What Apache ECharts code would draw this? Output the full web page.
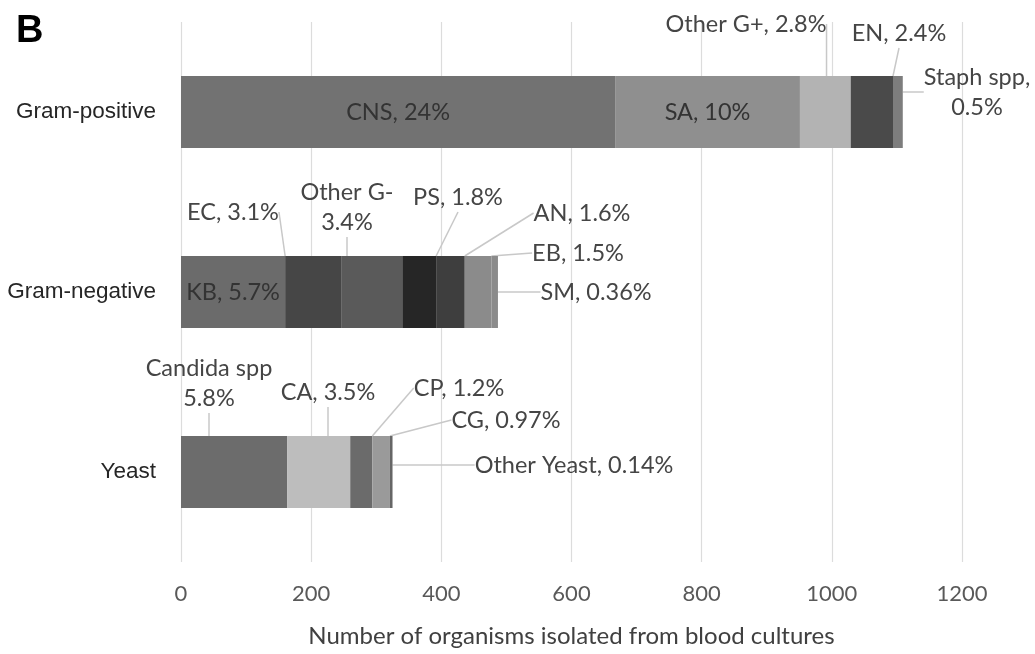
<!DOCTYPE html>
<html>
<head>
<meta charset="utf-8">
<script src="https://cdn.jsdelivr.net/npm/echarts@6/dist/echarts.min.js"></script>
<style>
  html, body { margin: 0; padding: 0; background: #fff; }
  #chart { width: 1035px; height: 654px; }
</style>
</head>
<body>
<div id="chart"></div>
<script>
// ---- Data ----
const categories = ['Gram-positive', 'Gram-negative', 'Yeast'];
const xTicks = [0, 200, 400, 600, 800, 1000, 1200];

const gramPosNames  = ['CNS', 'SA', 'Other G+', 'EN', 'Staph spp'];
const gramPosValues = [667, 284, 78, 65, 15];
const gramPosLabels = ['CNS, 24%', 'SA, 10%', 'Other G+, 2.8%', 'EN, 2.4%', 'Staph spp,\n0.5%'];

const gramNegNames  = ['KB', 'EC', 'Other G-', 'PS', 'AN', 'EB', 'SM'];
const gramNegValues = [160, 87, 93, 52, 44, 41, 10];
const gramNegLabels = ['KB, 5.7%', 'EC, 3.1%', 'Other G-\n3.4%', 'PS, 1.8%', 'AN, 1.6%', 'EB, 1.5%', 'SM, 0.36%'];

const yeastNames  = ['Candida spp', 'CA', 'CP', 'CG', 'Other Yeast'];
const yeastValues = [163, 97, 34, 27, 4];
const yeastLabels = ['Candida spp\n5.8%', 'CA, 3.5%', 'CP, 1.2%', 'CG, 0.97%', 'Other Yeast, 0.14%'];

// ---- Styles (kept separate from data) ----
const gramPosColors = ['#727272', '#8f8f8f', '#b3b3b3', '#4a4a4a', '#7d7d7d'];
const gramNegColors = ['#6b6b6b', '#464646', '#5a5a5a', '#262626', '#3e3e3e', '#8b8b8b', '#8b8b8b'];
const yeastColors   = ['#6c6c6c', '#bdbdbd', '#6b6b6b', '#9a9a9a', '#666666'];

// label placement (pixel centres) for outside labels; null => inside bar
const labelPlacement = {
  'CNS': null, 'SA': null, 'KB': null,
  'Other G+': [746, 24], 'EN': [899, 33], 'Staph spp': [977, 92],
  'EC': [233, 212], 'Other G-': [347, 207], 'PS': [458, 197], 'AN': [582, 213],
  'EB': [578, 253], 'SM': [596, 292],
  'Candida spp': [209, 383], 'CA': [328, 392], 'CP': [459, 388], 'CG': [506, 420],
  'Other Yeast': [574, 465]
};

const LABEL_FONT = 'Lato, "Open Sans", sans-serif';
const groups = [
  { names: gramPosNames, values: gramPosValues, labels: gramPosLabels, colors: gramPosColors },
  { names: gramNegNames, values: gramNegValues, labels: gramNegLabels, colors: gramNegColors },
  { names: yeastNames,   values: yeastValues,   labels: yeastLabels,   colors: yeastColors }
];

const series = [];
const seriesKeys = [];
groups.forEach((g, ci) => {
  g.names.forEach((name, i) => {
    const data = categories.map((c, k) => (k === ci ? g.values[i] : null));
    const place = labelPlacement[name];
    const text = g.labels[i];
    seriesKeys.push(name);
    series.push({
      name: name,
      type: 'bar',
      stack: 'total',
      barWidth: 72,
      data: data,
      itemStyle: { color: g.colors[i] },
      label: {
        show: true,
        position: 'inside',
        formatter: () => text,
        fontFamily: LABEL_FONT,
        fontSize: 23.5,
        lineHeight: 30,
        color: place ? '#454545' : '#333333',
        align: 'center'
      },
      labelLine: {
        show: !!place,
        lineStyle: { color: '#c8c8c8', width: 1.5 }
      },
      emphasis: { disabled: true },
      silent: true,
      animation: false
    });
  });
});

const chart = echarts.init(document.getElementById('chart'), null, { renderer: 'canvas' });
chart.setOption({
  backgroundColor: '#ffffff',
  animation: false,
  title: {
    text: 'B',
    left: 11,
    top: 8,
    textStyle: { fontFamily: '"Liberation Sans", Arial, sans-serif', fontWeight: 'bold', fontSize: 38, color: '#000' }
  },
  grid: { left: 181, right: 73, top: 22, bottom: 92, containLabel: false },
  xAxis: {
    type: 'value',
    min: xTicks[0],
    max: xTicks[xTicks.length - 1],
    interval: xTicks[1] - xTicks[0],
    axisLine: { show: false },
    axisTick: { show: false },
    splitLine: { show: true, lineStyle: { color: '#dcdcdc', width: 1.2 } },
    axisLabel: { fontFamily: LABEL_FONT, fontSize: 22, color: '#595959', margin: 21, formatter: v => String(v) },
    name: 'Number of organisms isolated from blood cultures',
    nameLocation: 'middle',
    nameGap: 62,
    nameTextStyle: { fontFamily: LABEL_FONT, fontSize: 24, color: '#404040' }
  },
  yAxis: {
    type: 'category',
    data: categories,
    inverse: true,
    axisLine: { show: false },
    axisTick: { show: false },
    splitLine: { show: false },
    axisLabel: { fontFamily: '"Liberation Sans", Arial, sans-serif', fontSize: 22.5, color: '#262626', margin: 25 }
  },
  labelLayout: function (params) {
    const key = seriesKeys[params.seriesIndex];
    const p = labelPlacement[key];
    if (!p) return {};
    return { x: p[0], y: p[1], align: 'center', verticalAlign: 'middle' };
  },
  series: series
});
</script>
</body>
</html>
